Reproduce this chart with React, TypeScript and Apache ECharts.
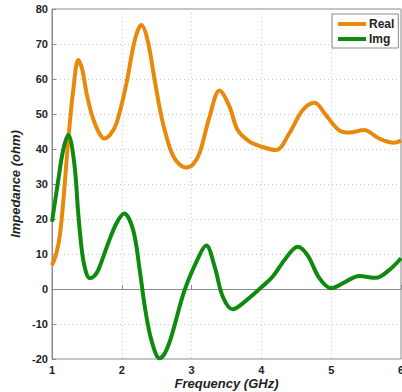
import React, { useEffect, useRef } from "react";
import * as echarts from "echarts";

const realX = [1.0, 1.06, 1.114, 1.17, 1.233, 1.305, 1.376, 1.43, 1.495, 1.56, 1.614, 1.68, 1.747, 1.83, 1.924, 2.067, 2.186, 2.281, 2.37, 2.471, 2.54, 2.614, 2.75, 2.92, 3.02, 3.114, 3.257, 3.4, 3.543, 3.66, 3.83, 4.0, 4.21, 4.4, 4.59, 4.76, 4.924, 5.11, 5.26, 5.47, 5.686, 5.9, 6.0];
const realY = [6.8, 10.0, 15.5, 27.0, 42.6, 56.9, 65.4, 63.0, 55.9, 50.5, 47.3, 44.4, 43.0, 44.0, 47.3, 58.8, 71.1, 75.4, 71.0, 59.7, 52.0, 45.4, 37.5, 34.7, 35.6, 38.8, 49.2, 56.7, 52.1, 45.4, 42.1, 40.7, 39.7, 44.5, 51.1, 53.2, 49.7, 45.4, 44.7, 45.4, 43.0, 41.8, 42.4];

const imgX = [1.0, 1.09, 1.16, 1.233, 1.319, 1.376, 1.433, 1.49, 1.543, 1.6, 1.662, 1.805, 1.924, 2.033, 2.162, 2.257, 2.329, 2.424, 2.543, 2.62, 2.71, 2.9, 3.114, 3.21, 3.33, 3.447, 3.59, 3.733, 3.876, 4.0, 4.16, 4.35, 4.52, 4.66, 4.83, 5.0, 5.21, 5.4, 5.64, 5.83, 6.0];
const imgY = [19.2, 31.1, 39.7, 44.0, 35.9, 21.6, 10.2, 4.6, 3.1, 3.6, 5.4, 13.1, 18.8, 21.6, 16.9, 5.4, -5.0, -14.6, -19.8, -18.2, -13.6, -0.3, 9.7, 12.4, 6.4, -2.2, -5.8, -4.1, -1.7, 0.5, 3.5, 8.8, 12.1, 9.7, 3.1, 0.2, 2.1, 3.7, 3.2, 5.4, 8.8];

const seriesNames = ["Real", "Img"];
const seriesColors = ["#E8890E", "#0E8A0E"];

export default function App() {
  const ref = useRef<HTMLDivElement>(null);
  useEffect(() => {
    if (!ref.current) return;
    const chart = echarts.init(ref.current, undefined, { renderer: "svg" });
    const font = "Liberation Sans, Arial, sans-serif";
    const axisCommon = {
      axisLine: { show: true, lineStyle: { color: "#8a8a8a", width: 1 } },
      axisTick: { show: true, inside: true, length: 4, lineStyle: { color: "#8a8a8a" } },
      splitLine: { show: true, lineStyle: { color: "#c8c8c8", type: [1, 3], width: 1 } },
      axisLabel: { color: "#222", fontWeight: "bold" as const, fontSize: 11, fontFamily: font },
      nameTextStyle: { color: "#222", fontWeight: "bold" as const, fontStyle: "italic" as const, fontSize: 13, fontFamily: font },
    };
    chart.setOption({
      animation: false,
      backgroundColor: "#fff",
      grid: { left: 52, top: 9, right: 1, bottom: 33, show: true, borderColor: "#8a8a8a", borderWidth: 1, containLabel: false, outerBoundsMode: "none" },
      legend: {
        orient: "vertical",
        left: 332,
        top: 14,
        padding: [4, 4, 3, 6],
        itemWidth: 28,
        itemHeight: 4,
        itemGap: 3,
        icon: "rect",
        borderColor: "#8a8a8a",
        borderWidth: 1,
        backgroundColor: "#fff",
        textStyle: { color: "#222", fontWeight: "bold", fontSize: 12, fontFamily: font, padding: [0, 0, 0, -2] },
        data: seriesNames,
      },
      xAxis: {
        type: "value",
        min: 1,
        max: 6,
        interval: 1,
        name: "Frequency (GHz)",
        nameLocation: "middle",
        nameGap: 18,
        nameMoveOverlap: false,
        ...axisCommon,
        axisLabel: { ...axisCommon.axisLabel, margin: 5 },
      },
      yAxis: {
        type: "value",
        min: -20,
        max: 80,
        interval: 10,
        name: "Impedance (ohm)",
        nameLocation: "middle",
        nameGap: 30,
        nameRotate: 90,
        nameMoveOverlap: false,
        ...axisCommon,
        axisLabel: { ...axisCommon.axisLabel, margin: 4 },
      },
      series: [
        {
          name: seriesNames[0],
          type: "line",
          data: realX.map((x, i) => [x, realY[i]]),
          smooth: 0.35,
          symbol: "none",
          lineStyle: { color: seriesColors[0], width: 4 },
          itemStyle: { color: seriesColors[0] },
          z: 2,
        },
        {
          name: seriesNames[1],
          type: "line",
          data: imgX.map((x, i) => [x, imgY[i]]),
          smooth: 0.35,
          symbol: "none",
          lineStyle: { color: seriesColors[1], width: 4 },
          itemStyle: { color: seriesColors[1] },
          z: 3,
        },
      ],
    });
    return () => chart.dispose();
  }, []);
  return <div ref={ref} style={{ position: "fixed", left: 0, top: 0, width: 402, height: 392 }} />;
}
